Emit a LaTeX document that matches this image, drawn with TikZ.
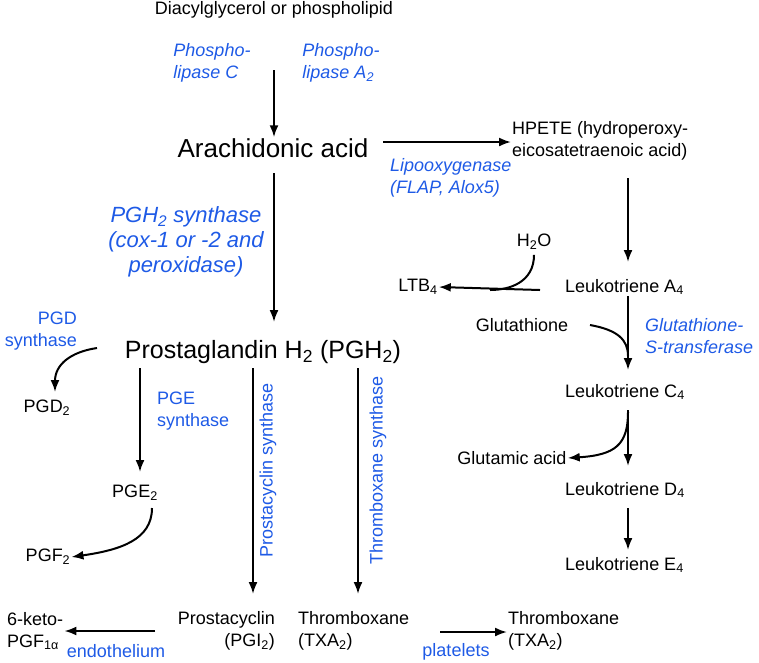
\documentclass[tikz,border=0pt]{standalone}
\usepackage{fontspec}
\setmainfont{Liberation Sans}
\usetikzlibrary{arrows.meta}
\definecolor{enz}{RGB}{30,90,230}
\newcommand\lowx[1]{\textsubscript{#1}}
\begin{document}
\begin{tikzpicture}[x=1pt,y=-1pt,
  t/.style={font=\fontsize{18}{22}\selectfont,inner sep=1pt},
  e/.style={text=enz,font=\fontsize{18}{22}\selectfont\itshape,inner sep=1pt,align=left},
  eu/.style={text=enz,font=\fontsize{18}{22}\selectfont,inner sep=1pt,align=left},
  ar/.style={line width=2pt,-{Latex[length=12pt,width=9pt]}}]
\useasboundingbox (0,0) rectangle (759,662);
\node[t] (dag) at (274,10) {Diacylglycerol or phospholipid};
\node[e] (plc) at (212,63) {Phospho-\\lipase C};
\node[e] (pla) at (341,63) {Phospho-\\lipase A\lowx{2}};
\node[font=\fontsize{26}{30}\selectfont,inner sep=1pt] (aa) at (273,148) {Arachidonic acid};
\node[t,align=left,anchor=west] (hpete) at (511,141) {HPETE (hydroperoxy-\\eicosatetraenoic acid)};
\node[e,anchor=west] (lox) at (389,178) {Lipooxygenase\\(FLAP, Alox5)};
\node[text=enz,font=\fontsize{22}{25}\selectfont\itshape,align=center] (pghs) at (186,242) {PGH\lowx{2} synthase\\(cox-1 or -2 and\\peroxidase)};
\node[t] (h2o) at (534,242) {H\lowx{2}O};
\node[t,anchor=west] (lta) at (564,287) {Leukotriene A\lowx{4}};
\node[t] (ltb) at (418,287) {LTB\lowx{4}};
\node[t] (glu) at (522,325) {Glutathione};
\node[e,anchor=west] (gst) at (644,336) {Glutathione-\\S-transferase};
\node[t,anchor=west] (ltc) at (564,392) {Leukotriene C\lowx{4}};
\node[t] (gla) at (512,458) {Glutamic acid};
\node[t,anchor=west] (ltd) at (564,490) {Leukotriene D\lowx{4}};
\node[t,anchor=west] (lte) at (564,565) {Leukotriene E\lowx{4}};
\node[eu,align=right,anchor=east] (pgds) at (78,331) {PGD\\synthase};
\node[font=\fontsize{25}{28}\selectfont,inner sep=1pt] (pgh) at (263,352) {Prostaglandin H\lowx{2} (PGH\lowx{2})};
\node[t] (pgd) at (47,408) {PGD\lowx{2}};
\node[eu,anchor=west] (pges) at (156,411) {PGE\\synthase};
\node[t] (pge) at (135,493) {PGE\lowx{2}};
\node[t] (pgf) at (48,557) {PGF\lowx{2}};
\node[eu,rotate=90] (pcs) at (268,470) {Prostacyclin synthase};
\node[eu,rotate=90] (txs) at (378,470) {Thromboxane synthase};
\node[t,align=right,anchor=east] (pgi) at (276,631) {Prostacyclin\\(PGI\lowx{2})};
\node[t,align=left,anchor=west] (tx1) at (297,631) {Thromboxane\\(TXA\lowx{2})};
\node[t,align=left,anchor=west] (keto) at (6,631) {6-keto-\\PGF\lowx{1α}};
\node[eu] (endo) at (116,651) {endothelium};
\node[eu] (plat) at (456,652) {platelets};
\node[t,align=left,anchor=west] (tx2) at (507,631) {Thromboxane\\(TXA\lowx{2})};
% arrows
\draw[ar] (274,70) -- (aa.north-|274,0);
\coordinate (a1) at (383,142);
\draw[ar] (a1) -- (a1-|hpete.west);
\draw[ar] (274,173) -- (274,322);
\draw[ar] (628,178) -- (628,262);
\coordinate (j1) at (490,290);
\draw[ar] (540,290) -- (ltb.east);
\draw[line width=2pt] (h2o.south) ++(0,4) .. controls (534,282) and (510,290) .. (j1);
\draw[ar] (628,296) -- (628,370);
\draw[line width=2pt] (590,325) .. controls (618,330) and (628,340) .. (628,356);
\draw[ar] (628,410) -- (628,466);
\draw[ar] (628,412) .. controls (628,445) and (615,455) .. (gla.east);
\draw[ar] (628,508) -- (628,550);
\draw[ar] (97,348) .. controls (70,352) and (55,365) .. (55,392);
\draw[ar] (140,368) -- (140,472);
\draw[ar] (152,508) .. controls (152,540) and (120,550) .. (pgf.east);
\draw[ar] (253,368) -- (253,594);
\draw[ar] (358,368) -- (358,594);
\draw[ar] (155,631) -- (keto.east);
\coordinate (p1) at (440,632);
\draw[ar] (p1) -- (p1-|tx2.west);
\end{tikzpicture}
\end{document}
